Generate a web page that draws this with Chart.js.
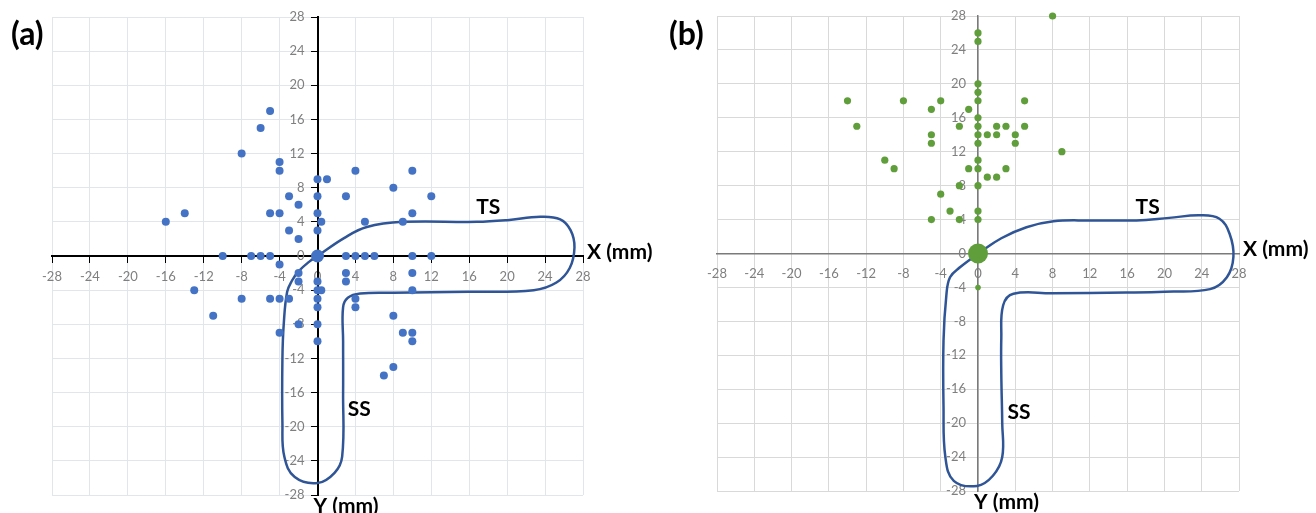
<!DOCTYPE html>
<html>
<head>
<meta charset="utf-8">
<script src="https://cdn.jsdelivr.net/npm/chart.js@4.4.1/dist/chart.umd.min.js"></script>
<style>
  body { margin: 0; background: #fff; }
  #wrap { position: relative; width: 1316px; height: 513px; overflow: hidden; }
  #wrap canvas { position: absolute; top: 0; }
</style>
</head>
<body>
<div id="wrap">
  <canvas id="chartA" width="658" height="513" style="left:0"></canvas>
  <canvas id="chartB" width="658" height="513" style="left:658px"></canvas>
</div>
<script>
// tick labels, both axes, both panels
const tickValues = [-28, -24, -20, -16, -12, -8, -4, 0, 4, 8, 12, 16, 20, 24, 28];

// (a) blue points [x, y] in mm
const pointsA = [
  [-16, 4], [-14, 5], [-8, 12], [-6, 15], [-5, 17], [-4, 11], [-4, 10], [-5, 5], [-4, 5],
  [-3, 7], [-2, 6], [-3, 3], [-2, 2],
  [0, 9], [1, 9], [0, 7], [0, 5], [0.4, 4], [0, 3],
  [3, 7], [4, 10], [5, 4], [8, 8], [9, 4], [10, 10], [10, 5], [12, 7],
  [-10, 0], [-7, 0], [-6, 0], [-5, 0], [3, 0], [4, 0], [5, 0], [6, 0], [10, 0], [12, 0],
  [-13, -4], [-11, -7], [-8, -5], [-5, -5], [-4, -5], [-3, -5], [-4, -1], [-4, -9],
  [-2, -2], [-2, -3], [-2, -8],
  [0, -3], [0, -4], [0.4, -4], [0, -5], [0, -6], [0, -8], [0, -10],
  [3, -2], [3, -3], [4, -5], [4, -6], [8, -7], [9, -9], [10, -9], [10, -10], [10, -2], [10, -4],
  [7, -14], [8, -13]
];
const originA = [[0, 0]];

// (b) green points [x, y] in mm
const pointsB = [
  [-14, 18], [-13, 15], [-8, 18], [-5, 17], [-4, 18], [-1, 17], [-2, 15], [-5, 14], [-5, 13],
  [-10, 11], [-9, 10], [-1, 10], [-2, 8], [-4, 7], [-3, 5], [-5, 4], [-2, 4],
  [0, 26], [0, 25], [0, 20], [0, 19], [0, 18], [0, 16], [0, 15], [0, 14], [0, 13], [0, 11],
  [0, 10], [0, 8], [0, 5], [0, 4],
  [1, 14], [1, 9], [8, 28], [5, 18], [5, 15], [2, 15], [3, 15], [2, 14], [4, 14], [4, 13],
  [9, 12], [2, 9], [3, 10]
];
const lowB = [[0, -4]];
const originB = [[0, 0]];

// TS / SS outline
const outlineA = [
  [0, 0], [2.8, 2.1], [5.2, 3.4], [9, 4.0], [16.8, 4.0], [20, 4.2], [23.5, 4.6], [25.6, 4.3],
  [26.7, 3.0], [27.1, 1.0], [26.6, -1.4], [25.2, -3.1], [22.8, -4.0], [16, -4.2], [8, -4.3],
  [4.5, -4.4], [3.2, -4.9], [2.7, -6.0], [2.7, -10], [2.7, -16], [2.6, -23.5], [1.8, -25.4],
  [0, -26.6], [-2.4, -25.9], [-3.5, -23.5], [-3.7, -19.6], [-3.7, -12], [-3.55, -7.8],
  [-3.2, -4.2], [-2.7, -2.9], [-2, -1.8], [-0.8, -0.6], [0, 0]
];
const outlineB = [
  [0, 0], [2.5, 1.8], [5.2, 3.1], [8.1, 3.8], [12, 3.9], [17, 3.9], [20.5, 4.2], [23.8, 4.5],
  [25.9, 4.1], [27, 2.3], [27.4, -0.4], [26.7, -2.8], [24.9, -4.2], [20, -4.5], [15.9, -4.6],
  [8, -4.7], [3.8, -4.75], [2.7, -6.1], [2.5, -10], [2.5, -14.2], [2.6, -20], [2.6, -24],
  [1.6, -26.2], [-0.1, -27.4], [-2.6, -26.8], [-3.5, -24], [-3.7, -18], [-3.7, -10.3],
  [-3.4, -5], [-3, -2.8], [-1.9, -1.6], [0, 0]
];

function toXY(arr) {
    return arr.map(p => ({ x: p[0], y: p[1] }));
}

// y labels of a value-positioned axis sit on the axis line; push them left of it
function shiftYLabels(dx) {
    return scale => {
        const base = Object.getPrototypeOf(scale).getLabelItems;
        scale.getLabelItems = function (area) {
            const items = base.call(this, area);
            items.forEach(it => {
                if (!it._moved) {
                    it.options.translation[0] -= dx;
                    it._moved = true;
                }
            });
            return items;
        };
    };
}

function textPlugin(o) {
    return {
        id: 'panelText',
        afterDatasetsDraw(chart) {
            const ctx = chart.ctx;
            const sx = chart.scales.x, sy = chart.scales.y;
            ctx.save();
            ctx.fillStyle = '#000';
            ctx.textBaseline = 'middle';
            // panel letter
            ctx.font = 'bold 32px Lato';
            ctx.textAlign = 'left';
            ctx.fillText(o.letter, o.letterX, 35);
            // TS / SS
            ctx.font = 'bold 21px Lato';
            ctx.textAlign = 'center';
            ctx.fillText('TS', sx.getPixelForValue(o.ts[0]), sy.getPixelForValue(o.ts[1]));
            ctx.fillText('SS', sx.getPixelForValue(o.ss[0]), sy.getPixelForValue(o.ss[1]));
            // axis names
            ctx.textAlign = 'left';
            ctx.fillText('X (mm)', sx.right + 4, sy.getPixelForValue(0) - 4);
            ctx.fillText('Y (mm)', sx.getPixelForValue(0) - 4, sy.bottom + 11);
            ctx.restore();
        }
    };
}

function makePanel(id, o) {
    const tickFont = { family: 'Lato', size: 13 };
    const axisOpts = (pos) => ({
        type: 'linear',
        min: -28,
        max: 28,
        position: pos,
        afterBuildTicks: s => { s.ticks = tickValues.map(v => ({ value: v })); },
        grid: { color: o.gridColor, tickColor: o.tickColor, tickLength: 6, lineWidth: 1 },
        border: { color: o.axisColor, width: o.axisWidth },
        ticks: { font: tickFont, color: '#7f7f7f', padding: 7, autoSkip: false, maxRotation: 0 }
    });
    const yAxis = axisOpts({ x: 0 });
    yAxis.afterFit = shiftYLabels(o.yLabelGap);
    return new Chart(document.getElementById(id), {
        type: 'scatter',
        data: {
            datasets: [
                { data: toXY(o.outline), showLine: true, tension: 0.4, borderColor: '#2f5597',
                  borderWidth: 2.5, pointRadius: 0, fill: false, clip: false, order: 3 },
                { data: toXY(o.points), pointRadius: o.r, backgroundColor: o.color,
                  borderWidth: 0, clip: false, order: 2 },
                { data: toXY(o.extra), pointRadius: o.extraR, backgroundColor: o.color,
                  borderWidth: 0, clip: false, order: 2 },
                { data: toXY(o.origin), pointRadius: o.originR, backgroundColor: o.color,
                  borderWidth: 0, clip: false, order: 1 }
            ]
        },
        options: {
            responsive: false,
            animation: false,
            events: [],
            layout: { padding: o.pad },
            plugins: { legend: { display: false }, tooltip: { enabled: false } },
            scales: {
                x: axisOpts({ y: 0 }),
                y: yAxis
            }
        },
        plugins: [textPlugin(o)]
    });
}

makePanel('chartA', {
    points: pointsA, extra: [], origin: originA, outline: outlineA,
    color: '#4472c4', r: 4, extraR: 4, originR: 6.5,
    gridColor: '#e2e6eb', tickColor: '#000', axisColor: '#000', axisWidth: 2,
    pad: { left: 52, right: 75, top: 17, bottom: 18 }, yLabelGap: 13,
    letter: '(a)', letterX: 11, ts: [18.0, 5.7], ss: [4.4, -17.9]
});

makePanel('chartB', {
    points: pointsB, extra: lowB, origin: originB, outline: outlineB,
    color: '#5f9e3a', r: 3.6, extraR: 2.8, originR: 10,
    gridColor: '#d9d9d9', tickColor: 'rgba(0,0,0,0)', axisColor: '#7a7a7a', axisWidth: 1.5,
    pad: { left: 59, right: 77, top: 16, bottom: 22 }, yLabelGap: 12,
    letter: '(b)', letterX: 11, ts: [18.2, 5.4], ss: [4.4, -18.7]
});
</script>
</body>
</html>
